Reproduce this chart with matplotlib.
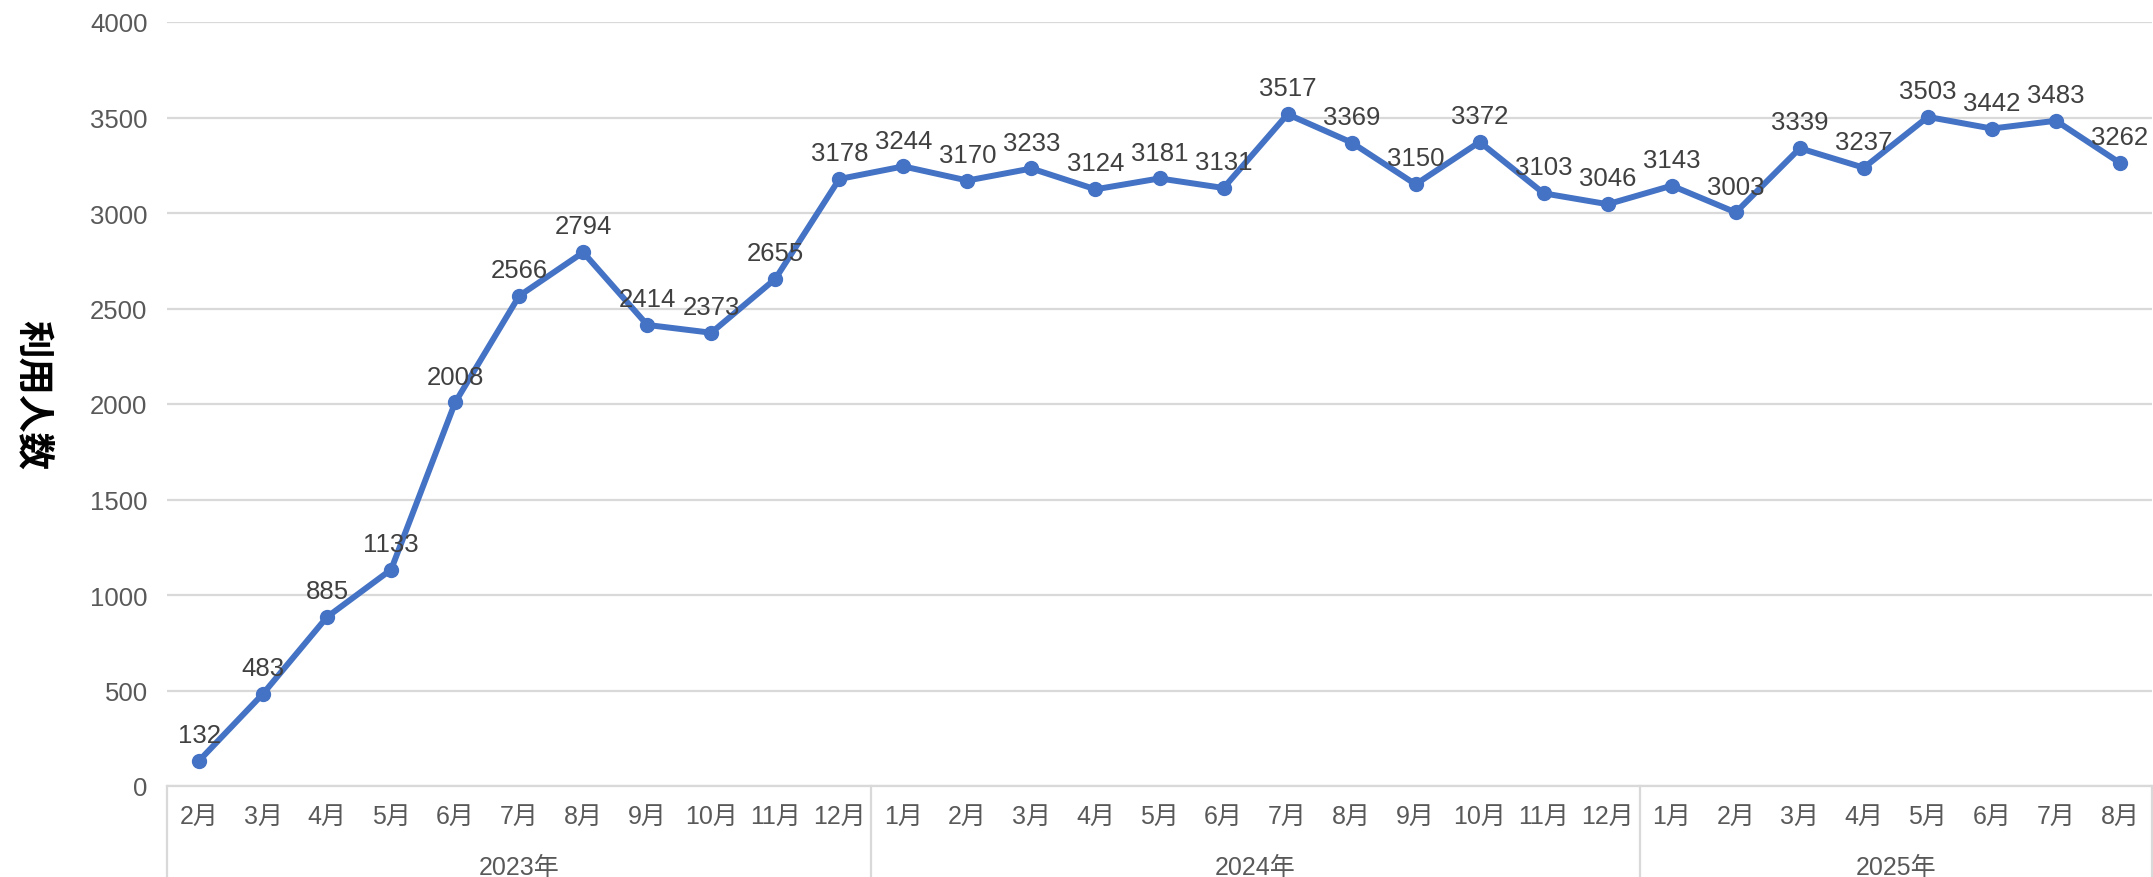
import matplotlib
matplotlib.use("Agg")
import matplotlib.pyplot as plt

plt.rcParams["font.family"] = ["Liberation Sans", "Noto Sans CJK JP", "DejaVu Sans"]

YEARS = ["2023年", "2024年", "2025年"]
MONTHS_2023 = ["2月", "3月", "4月", "5月", "6月", "7月", "8月", "9月", "10月", "11月", "12月"]
MONTHS_2024 = ["1月", "2月", "3月", "4月", "5月", "6月", "7月", "8月", "9月", "10月", "11月", "12月"]
MONTHS_2025 = ["1月", "2月", "3月", "4月", "5月", "6月", "7月", "8月"]

USERS_2023 = [132, 483, 885, 1133, 2008, 2566, 2794, 2414, 2373, 2655, 3178]
USERS_2024 = [3244, 3170, 3233, 3124, 3181, 3131, 3517, 3369, 3150, 3372, 3103, 3046]
USERS_2025 = [3143, 3003, 3339, 3237, 3503, 3442, 3483, 3262]

Y_TICKS = [0, 500, 1000, 1500, 2000, 2500, 3000, 3500, 4000]
Y_LABEL = "利用人数"

LINE_COLOR = "#4472C4"
GRID_COLOR = "#D9D9D9"


def main() -> None:
    month_groups = [MONTHS_2023, MONTHS_2024, MONTHS_2025]
    months = MONTHS_2023 + MONTHS_2024 + MONTHS_2025
    values = USERS_2023 + USERS_2024 + USERS_2025
    x = list(range(len(values)))

    fig = plt.figure(figsize=(21.53, 8.78), dpi=100)
    ax = fig.add_axes([167 / 2153, 91 / 878, 1 - 167 / 2153 - 1 / 2153, 764 / 878])

    ax.plot(x, values, color=LINE_COLOR, linewidth=4.3, marker="o",
            markersize=10, zorder=3, solid_capstyle="round")
    for xi, v in zip(x, values):
        ax.annotate(str(v), (xi, v), xytext=(0, 10), textcoords="offset points",
                    ha="center", va="bottom", fontsize=18.5, color="#404040")

    ax.set_xlim(-0.5, len(values) - 0.5)
    ax.set_ylim(Y_TICKS[0], Y_TICKS[-1])
    ax.set_yticks(Y_TICKS)
    ax.tick_params(axis="y", length=0, pad=14, labelsize=18.5, labelcolor="#595959")
    ax.set_xticks([])
    ax.grid(axis="y", color=GRID_COLOR, linewidth=1.6)
    ax.set_axisbelow(True)
    for side in ["top", "right", "left"]:
        ax.spines[side].set_visible(False)
    ax.spines["bottom"].set_color(GRID_COLOR)
    ax.spines["bottom"].set_linewidth(1.6)

    # two-level category axis
    tr = ax.get_xaxis_transform()
    for xi, m in zip(x, months):
        ax.text(xi, -0.039, m, transform=tr, ha="center", va="center",
                fontsize=18, color="#595959")
    start = 0
    bounds = [-0.5]
    for year, group in zip(YEARS, month_groups):
        end = start + len(group)
        ax.text((start + end - 1) / 2, -0.106, year, transform=tr, ha="center",
                va="center", fontsize=18, color="#595959")
        bounds.append(end - 0.5)
        start = end
    for b in bounds:
        ax.plot([b, b], [0, -0.2], transform=tr, color=GRID_COLOR,
                linewidth=1.6, clip_on=False)

    fig.text(32 / 2153, 1 - 395 / 878, Y_LABEL, rotation=-90, ha="center",
             va="center", fontsize=27, fontweight="bold", color="black")

    fig.savefig("out.png", dpi=100)
    plt.close(fig)


if __name__ == "__main__":
    main()
